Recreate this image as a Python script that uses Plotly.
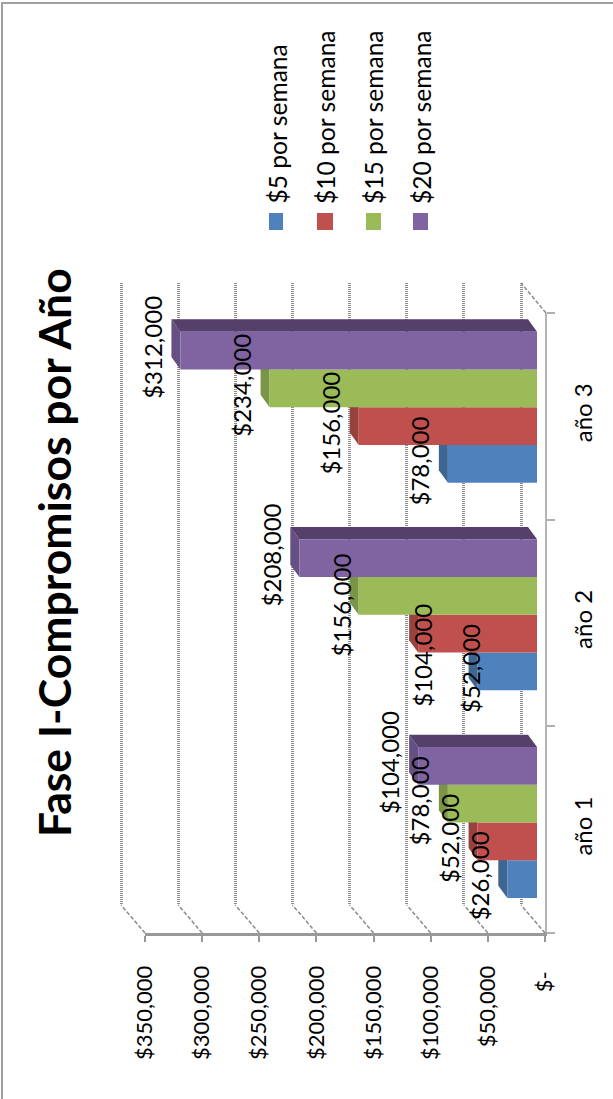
import plotly.graph_objects as go

W, H = 613, 1099
categories = ["año 1", "año 2", "año 3"]
series_names = ["$5 por semana", "$10 por semana", "$15 por semana", "$20 por semana"]
s5 = [26000, 52000, 78000]
s10 = [52000, 104000, 156000]
s15 = [78000, 156000, 234000]
s20 = [104000, 208000, 312000]
series_values = [s5, s10, s15, s20]
value_ticks = [0, 50000, 100000, 150000, 200000, 250000, 300000, 350000]
value_labels = ["$-\u00a0", "$50,000", "$100,000", "$150,000", "$200,000", "$250,000", "$300,000", "$350,000"]
data_labels = [["$26,000", "$52,000", "$78,000"], ["$52,000", "$104,000", "$156,000"],
               ["$78,000", "$156,000", "$234,000"], ["$104,000", "$208,000", "$312,000"]]
face = ["#4F81BD", "#C0504D", "#9BBB59", "#8064A2"]
side = ["#3E6693", "#984240", "#7B9547", "#664F82"]
top = "#54406B"
GRID = "#8C8C8C"
FONT = "Lato"
# hand-placed data labels in the original: (series, category) -> pixel nudge (right, down)
label_nudges = {(0, 1): (21, 0), (1, 1): (32, 25), (2, 1): (11, 12)}


def px(x): return x / W
def py(y): return 1 - y / H


VMAX = 350000
PX_PER = 400 / VMAX
CAT_PX = 207.7
PAD = 7000
PAD_PX = PAD * PX_PER
fig = go.Figure()

fig.add_trace(go.Scatter(x=[0], y=[0], xaxis="x", yaxis="y", mode="markers", marker_opacity=0, hoverinfo="skip", showlegend=False))

bw = 0.727 / 4
dx = 9 / PX_PER
dy = 12.3 / CAT_PX
for i, vals in enumerate(series_values):
    for c, v in enumerate(vals):
        y0 = c - 2 * bw + i * bw
        y1 = y0 + bw
        fig.add_trace(go.Scatter(x=[v, v + dx, v + dx, v, v], y=[y0, y0 + dy, y1 + dy, y1, y0],
                                 xaxis="x2", yaxis="y2", mode="lines", fill="toself", fillcolor=side[i],
                                 line=dict(width=0, color=side[i]), hoverinfo="skip", showlegend=False))
        if i == 3:
            fig.add_trace(go.Scatter(x=[0, dx, v + dx, v, 0], y=[y1, y1 + dy, y1 + dy, y1, y1],
                                     xaxis="x2", yaxis="y2", mode="lines", fill="toself", fillcolor=top,
                                     line=dict(width=0, color=top), hoverinfo="skip", showlegend=False))
    fig.add_trace(go.Bar(y=list(range(3)), x=vals, orientation="h", width=bw,
                         offset=-2 * bw + i * bw, marker=dict(color=face[i], line_width=0),
                         xaxis="x3", yaxis="y3", name=series_names[i], showlegend=False))

fig.add_trace(go.Scatter(x=[0, 0, 0], y=categories, xaxis="x4", yaxis="y4", mode="markers",
                         marker_opacity=0, hoverinfo="skip", showlegend=False))


def xdom(zero_px):
    return [px(zero_px - 400), px(zero_px)]


def ydom(bot, t):
    return [py(bot), py(t)]


hid = dict(showticklabels=False, ticks="", showline=False, zeroline=False, showgrid=False, automargin=False)
lay = dict(
    template="none",
    width=W, height=H, margin=dict(l=0, r=0, t=0, b=0, pad=0), autosize=False,
    paper_bgcolor="white", plot_bgcolor="rgba(0,0,0,0)", showlegend=False,
    font=dict(family=FONT, color="#000000"),
    xaxis=dict(domain=[px(521 - 400 - PAD_PX), px(521 + PAD_PX)], range=[VMAX + PAD, -PAD], anchor="y",
               tickvals=value_ticks, automargin=False,
               showgrid=True, gridcolor=GRID, gridwidth=2.5, griddash="1px,1px",
               showticklabels=False, ticks="", showline=False, zeroline=False),
    yaxis=dict(domain=ydom(905, 283), range=[0, 1], anchor="x", **hid),
    xaxis2=dict(domain=xdom(537), range=[VMAX, 0], anchor="y2", **hid),
    yaxis2=dict(domain=ydom(926.4, 303.3), range=[-0.5, 2.5], anchor="x2", **hid),
    xaxis3=dict(domain=xdom(537), range=[VMAX, 0], anchor="y3", **hid),
    yaxis3=dict(domain=ydom(926.4, 303.3), range=[-0.5, 2.5], anchor="x3", **hid),
    xaxis4=dict(domain=xdom(545), range=[VMAX, 0], anchor="y4", side="bottom", automargin=False,
                tickmode="array", tickvals=value_ticks, ticktext=value_labels, tickangle=-90,
                ticks="outside", ticklen=6, tickcolor="#999999", tickwidth=1.5,
                showline=True, linecolor="#999999", linewidth=3, showgrid=False, zeroline=False,
                tickfont=dict(size=22, family=FONT), ticklabelstandoff=15),
    yaxis4=dict(domain=ydom(933, 313), type="category", categoryorder="array", categoryarray=categories,
                range=[-0.5, 2.5],
                anchor="x4", side="right", tickson="boundaries", ticks="outside", ticklen=8, automargin=False,
                tickcolor="#B0B0B0", tickwidth=1.5, showline=True, linecolor="#B5B5B5", linewidth=2,
                showgrid=False, zeroline=False, tickangle=-90, tickfont=dict(size=24, family=FONT),
                ticklabelstandoff=16),
)

shapes = []
for v in value_ticks:
    xf = 545 - v * PX_PER
    shapes.append(dict(type="line", xref="paper", yref="paper", x0=px(xf), y0=py(933), x1=px(xf - 24), y1=py(905),
                       line=dict(color=GRID, width=1.5, dash="4px,2px")))
shapes.append(dict(type="line", xref="paper", yref="paper", x0=px(546), y0=py(313), x1=px(521), y1=py(283),
                   line=dict(color=GRID, width=1.5, dash="4px,2px")))
shapes.append(dict(type="line", xref="paper", yref="paper", x0=px(1), y0=py(3), x1=1, y1=py(3),
                   line=dict(color="#A0A0A0", width=2)))
shapes.append(dict(type="line", xref="paper", yref="paper", x0=px(2), y0=py(3), x1=px(2), y1=0,
                   line=dict(color="#A0A0A0", width=2)))
sw = [(269, 283), (317, 333), (366, 381), (413, 428)]
for (a, b), c in zip(sw, face):
    shapes.append(dict(type="rect", xref="paper", yref="paper", x0=px(a), x1=px(b), y0=py(230), y1=py(213),
                       fillcolor=c, line_width=0))
lay["shapes"] = shapes

ann = []
lab_off = 19 / PX_PER
for i, vals in enumerate(series_values):
    for c, v in enumerate(vals):
        nx, ny = label_nudges.get((i, c), (0, 0))
        ann.append(dict(x=v + dx + lab_off - nx / PX_PER,
                        y=c - 2 * bw + i * bw + bw / 2 + 0.015 - ny / CAT_PX, xref="x3", yref="y3",
                        xanchor="center", yanchor="middle",
                        text=data_labels[i][c], textangle=-90, showarrow=False,
                        font=dict(size=24, family=FONT, color="#000000")))
ann.append(dict(x=px(53), y=py(553), xref="paper", yref="paper", xanchor="center", yanchor="middle",
                text="<b>Fase I-Compromisos por Año</b>",
                textangle=-90, showarrow=False, font=dict(size=44.5, family=FONT, color="#000000")))
for name, xc in zip(series_names, [277, 325, 373, 421]):
    ann.append(dict(x=px(xc), y=py(206), xref="paper", yref="paper", xanchor="center", yanchor="bottom", text=name,
                    textangle=-90, showarrow=False, font=dict(size=24.6, family=FONT, color="#000000")))
lay["annotations"] = ann
fig.update_layout(**lay)
fig.write_html("out.html", config=dict(displayModeBar=False),
               post_script="document.body.style.margin='0';document.body.style.overflow='hidden';")
